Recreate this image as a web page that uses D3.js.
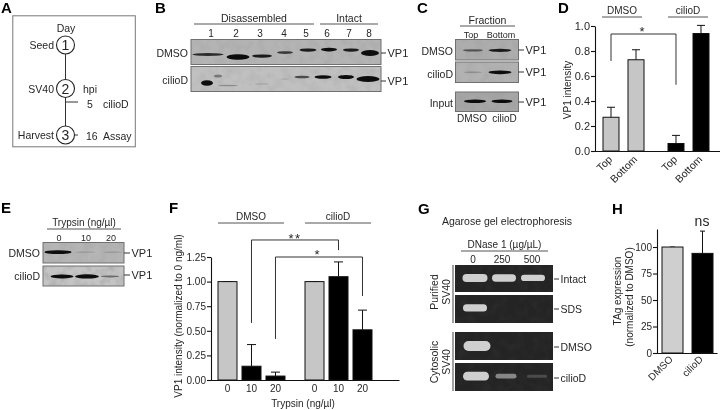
<!DOCTYPE html>
<html>
<head>
<meta charset="utf-8">
<script src="https://cdn.jsdelivr.net/npm/d3@7/dist/d3.min.js"></script>
<style>
  html, body { margin: 0; padding: 0; background: #fff; }
  svg { display: block; filter: blur(0.35px); }
  text { font-family: "Liberation Sans", Arial, sans-serif; fill: #262626; }
  .domain, .tick line { stroke: #111; stroke-width: 1.1px; }
</style>
</head>
<body>
<div id="content"></div>
<script>
// panel A timeline
const days = [1, 2, 3];
const dayLabels = ["Seed", "SV40", "Harvest"];

// panel B, sucrose fractions
const fractions = [1, 2, 3, 4, 5, 6, 7, 8];
const bDmsoBand = [0.4, 0.9, 0.45, 0.35, 0.45, 0.55, 0.45, 1];
const bDmsoMigration = [0.6, 0.7, 0.66, 0.52, 0.42, 0.4, 0.42, 0.54];
const bCilioBand = [0.9, 0.1, 0.03, 0.03, 0.3, 0.5, 0.6, 1];
const bCilioMigration = [0.66, 0.76, 0.7, 0.5, 0.42, 0.42, 0.42, 0.5];

// panel C
const cLanes = ["Top", "Bottom"];
const cDmsoBand = [0.25, 0.45];
const cCilioBand = [0.06, 0.55];
const cInputLanes = ["DMSO", "cilioD"];
const cInputBand = [0.5, 0.5];

// panel D
const dGroups = ["DMSO", "cilioD"];
const dBarsKeys = ["Top", "Bottom"];
const dDmso = [0.27, 0.73];
const dDmsoErr = [0.35, 0.81];
const dCilio = [0.06, 0.94];
const dCilioErr = [0.125, 1.005];
const dTicks = [0, 0.2, 0.4, 0.6, 0.8, 1];

// panel E
const eDoses = [0, 10, 20];
const eDmsoBand = [0.55, 0.04, 0.05];
const eCilioBand = [0.6, 0.65, 0.2];

// panel F
const fGroups = ["DMSO", "cilioD"];
const fDoses = [0, 10, 20];
const fDmso = [1, 0.14, 0.04];
const fDmsoErr = [1, 0.36, 0.08];
const fCilio = [1, 1.05, 0.51];
const fCilioErr = [1, 1.2, 0.71];
const fTicks = [0, 0.25, 0.5, 0.75, 1, 1.25];

// panel G
const gDoses = [0, 250, 500];
const gIntact = [1, 0.9, 0.7];
const gSds = [0.85, 0, 0];
const gDmso = [1, 0, 0];
const gCilio = [0.95, 0.4, 0.15];

// panel H
const hCats = ["DMSO", "cilioD"];
const hVals = [100, 94];
const hErr = [100, 115];
const hTicks = [0, 25, 50, 75, 100];

const grey = "#c6c6c6";
const w = 720, h = 410;

const svg = d3.select("#content").append("svg").attr("width", w).attr("height", h);
const defs = svg.append("defs");
defs.append("filter").attr("id", "soft").attr("x", "-30%").attr("y", "-100%").attr("width", "160%").attr("height", "300%")
  .append("feGaussianBlur").attr("stdDeviation", 0.7);
const grain = defs.append("filter").attr("id", "grain").attr("x", 0).attr("y", 0).attr("width", "100%").attr("height", "100%");
grain.append("feTurbulence").attr("type", "fractalNoise").attr("baseFrequency", 0.12).attr("numOctaves", 2).attr("seed", 4);
grain.append("feColorMatrix").attr("values", "0 0 0 0 0.25  0 0 0 0 0.25  0 0 0 0 0.25  0 0 0 1.1 -0.42");

function txt(x, y, s, size = 10.5, anchor = "start", rot = null) {
  const t = svg.append("text").attr("x", x).attr("y", y).text(s)
    .attr("font-size", size).attr("text-anchor", anchor).attr("dominant-baseline", "central");
  if (rot !== null) t.attr("transform", `rotate(${rot},${x},${y})`);
  return t;
}
function line(x1, y1, x2, y2, col = "#333", sw = 1) {
  svg.append("line").attr("x1", x1).attr("y1", y1).attr("x2", x2).attr("y2", y2)
    .attr("stroke", col).attr("stroke-width", sw);
}
function header(x1, x2, y, s, size = 10.5, col = "#555") {
  line(x1, y, x2, y, col, 1);
  txt((x1 + x2) / 2, y - 6.5, s, size, "middle");
}
function panel(x, y, s) {
  svg.append("text").attr("x", x).attr("y", y).text(s)
    .attr("font-size", 15).attr("font-weight", "bold").style("fill", "#000");
}

// one western blot / gel strip. o has the layout; bands come from the value arrays
function blot(o) {
  const g = svg.append("g");
  g.append("rect").attr("x", o.x0).attr("y", o.y0).attr("width", o.x1 - o.x0).attr("height", o.y1 - o.y0)
    .attr("fill", o.bg).attr("stroke", o.edge || "#6f6f6f").attr("stroke-width", o.edge === "none" ? 0 : 1);
  g.append("rect").attr("x", o.x0).attr("y", o.y0).attr("width", o.x1 - o.x0).attr("height", o.y1 - o.y0)
    .attr("filter", "url(#grain)").attr("opacity", o.grain === undefined ? 0.35 : o.grain);
  const yMig = d3.scaleLinear().domain([0, 1]).range([o.y0, o.y1]);
  const thick = d3.scaleLinear().domain([0, 1]).range(o.thick || [1, 6]);
  const opa = d3.scaleLinear().domain(o.opaDomain || [0, 0.5]).range(o.opaRange || [0.1, 1]).clamp(true);
  g.selectAll("rect.band").data(o.lanes.map((l, i) => ({ l, i, v: o.band[i] })).filter(d => d.v > 0)).enter().append("rect")
    .attr("class", "band")
    .attr("x", d => o.x(d.l) - o.widths[d.i] / 2)
    .attr("y", d => yMig(o.mig ? o.mig[d.i] : o.migAll) - thick(d.v) / 2)
    .attr("width", d => o.widths[d.i])
    .attr("height", d => thick(d.v))
    .attr("rx", d => o.pill ? thick(d.v) / 2 : o.widths[d.i] / 2)
    .attr("ry", d => thick(d.v) / 2)
    .attr("fill", o.ink || "#0a0a0a")
    .attr("opacity", d => opa(d.v))
    .attr("filter", "url(#soft)");
  return g;
}
function tag(x, y, s, tick = 5, size = 11) {
  line(x, y, x + tick, y, "#333", 1);
  txt(x + tick + 1.5, y, s, size);
}

/* ---- A ---- */
panel(1, 13, "A");
svg.append("rect").attr("x", 12.8).attr("y", 15.8).attr("width", 122.5).attr("height", 131)
  .attr("fill", "#fff").attr("stroke", "#777").attr("stroke-width", 1);
const yDay = d3.scaleOrdinal().domain(days).range([45, 88.5, 135]);
line(65.5, yDay(1), 65.5, yDay(3), "#333", 1);
line(66, 102, 78, 102, "#333", 1);
line(75, 135, 78, 135, "#333", 1);
svg.selectAll("circle.day").data(days).enter().append("circle").attr("class", "day")
  .attr("cx", 65.5).attr("cy", d => yDay(d)).attr("r", 9).attr("fill", "#fff").attr("stroke", "#222").attr("stroke-width", 1.1);
days.forEach((d, i) => {
  txt(65.5, yDay(d), d, 14, "middle");
  txt(54, yDay(d), dayLabels[i], 10.5, "end");
});
txt(66, 27.5, "Day", 10.5, "middle");
txt(83, 89, "hpi", 10.5);
txt(87, 103.5, "5", 10.5);
txt(103, 103.5, "cilioD", 10.5);
txt(86, 135.5, "16", 10.5);
txt(103, 135.5, "Assay", 10.5);

/* ---- B ---- */
panel(155, 13, "B");
header(194, 314, 24, "Disassembled", 10.5);
header(320, 378, 24, "Intact", 10.5);
const bLabelX = d3.scaleOrdinal().domain(fractions).range([211, 236, 260, 284, 306, 327, 349, 369]);
fractions.forEach(f => txt(bLabelX(f), 33, f, 10, "middle"));
blot({ x0: 191, x1: 381, y0: 39.5, y1: 64.5, bg: "#b4b4b4", lanes: fractions, band: bDmsoBand, mig: bDmsoMigration,
  x: d3.scaleOrdinal().domain(fractions).range([208, 238, 262, 285, 308, 329, 351, 370]),
  widths: [31, 23, 20, 16, 17, 16, 16, 18] });
blot({ x0: 191, x1: 381, y0: 66.5, y1: 91.5, bg: "#c0c0c0", lanes: fractions, band: bCilioBand, mig: bCilioMigration,
  x: d3.scaleOrdinal().domain(fractions).range([207, 228, 262, 285, 302, 323, 346, 368]),
  widths: [12, 20, 14, 8, 15, 17, 16, 23] })
  .append("ellipse").attr("cx", 218).attr("cy", 76).attr("rx", 4).attr("ry", 1.5).attr("fill", "#333").attr("opacity", 0.5).attr("filter", "url(#soft)");
txt(188, 53, "DMSO", 10.5, "end");
txt(188, 79.5, "cilioD", 10.5, "end");
tag(381, 53, "VP1");
tag(381, 81, "VP1");

/* ---- C ---- */
panel(417, 13, "C");
header(460, 515, 26, "Fraction", 10.5);
const xC = d3.scaleOrdinal().domain(cLanes).range([473, 500]);
const xCInput = d3.scaleOrdinal().domain(cInputLanes).range([475, 502]);
txt(471, 34.5, "Top", 9, "middle");
txt(501, 34.5, "Bottom", 9, "middle");
blot({ x0: 455.5, x1: 518.5, y0: 39.5, y1: 60, bg: "#adadad", x: xC, lanes: cLanes, band: cDmsoBand, migAll: 0.53, widths: [20, 23] });
blot({ x0: 455.5, x1: 518.5, y0: 62, y1: 82.5, bg: "#b2b2b2", x: xC, lanes: cLanes, band: cCilioBand, migAll: 0.5, widths: [18, 23] });
blot({ x0: 455.5, x1: 518.5, y0: 92, y1: 111.5, bg: "#a6a6a6", x: xCInput, lanes: cInputLanes, band: cInputBand, migAll: 0.48, widths: [22, 21] });
txt(453, 50.5, "DMSO", 10.5, "end");
txt(453, 73.5, "cilioD", 10.5, "end");
txt(453, 103, "Input", 10.5, "end");
tag(518.5, 50, "VP1", 5.5);
tag(518.5, 72, "VP1", 5.5);
tag(518.5, 102, "VP1", 5.5);
txt(472, 118, "DMSO", 10, "middle");
txt(504.5, 118, "cilioD", 10, "middle");

// grouped bar panels D and F
function bars(x, y, vals, errs, keys, fill, capW) {
  const gg = svg.append("g");
  gg.selectAll("line.err").data(keys).enter().append("line").attr("class", "err")
    .attr("x1", k => x(k) + x.bandwidth() / 2).attr("x2", k => x(k) + x.bandwidth() / 2)
    .attr("y1", (k, i) => y(vals[i])).attr("y2", (k, i) => y(errs[i]))
    .attr("stroke", "#111").attr("stroke-width", 1);
  gg.selectAll("line.cap").data(keys).enter().append("line").attr("class", "cap")
    .attr("x1", k => x(k) + x.bandwidth() / 2 - capW / 2).attr("x2", k => x(k) + x.bandwidth() / 2 + capW / 2)
    .attr("y1", (k, i) => y(errs[i])).attr("y2", (k, i) => y(errs[i]))
    .attr("stroke", "#111").attr("stroke-width", 1);
  gg.selectAll("rect").data(keys).enter().append("rect")
    .attr("x", k => x(k)).attr("width", x.bandwidth())
    .attr("y", (k, i) => y(vals[i])).attr("height", (k, i) => y(0) - y(vals[i]))
    .attr("fill", fill).attr("stroke", "#111").attr("stroke-width", 1);
}
function yAxis(x, scale, ticks, fmt, size) {
  const a = svg.append("g").attr("transform", `translate(${x},0)`)
    .call(d3.axisLeft(scale).tickValues(ticks).tickFormat(fmt).tickSize(4).tickSizeOuter(0).tickPadding(1));
  a.selectAll("text").attr("font-size", size).style("font-family", '"Liberation Sans", Arial, sans-serif');
}
function xLine(x0, x1, y) {
  svg.append("g").attr("transform", `translate(0,${y})`)
    .call(d3.axisBottom(d3.scaleLinear().range([x0, x1])).tickValues([]).tickSizeOuter(0));
}
function bracket(xa, xb, yTop, yA, yB) {
  svg.append("path").attr("d", d3.line()([[xa, yA], [xa, yTop], [xb, yTop], [xb, yB]]))
    .attr("fill", "none").attr("stroke", "#333").attr("stroke-width", 1);
}

/* ---- D ---- */
panel(558, 13, "D");
const xD = d3.scaleBand().domain(dGroups).range([603, 709]).paddingInner(0.369);
const xDin = d3.scaleBand().domain(dBarsKeys).range([0, xD.bandwidth()]).paddingInner(0.36);
const yD = d3.scaleLinear().domain([0, 1]).range([151, 26]);
header(602, 642, 17, "DMSO", 10);
header(668, 708, 17, "cilioD", 10);
const dx = grp => { const s = k => xD(grp) + xDin(k); s.bandwidth = () => xDin.bandwidth(); return s; };
bars(dx("DMSO"), yD, dDmso, dDmsoErr, dBarsKeys, grey, 8);
bars(dx("cilioD"), yD, dCilio, dCilioErr, dBarsKeys, "#000", 8);
yAxis(595, yD, dTicks, d3.format(".1f"), 11);
xLine(591, 720, 151);
dGroups.forEach(grp => dBarsKeys.forEach(k => {
  const cx = dx(grp)(k) + xDin.bandwidth() / 2;
  svg.append("text").text(k).attr("font-size", 10.5).attr("text-anchor", "end")
    .attr("transform", `translate(${cx + 2},${160}) rotate(-45)`);
}));
txt(567, 90, "VP1 intensity", 10, "middle", -90);
bracket(dx("DMSO")("Top") + 8, dx("cilioD")("Top") + 8, yD(0.936), yD(0.72), yD(0.53));
txt(642, 31, "*", 13, "middle");

/* ---- E ---- */
panel(1, 213, "E");
header(47, 121, 229, "Trypsin (ng/µl)", 10);
const xEl = d3.scaleOrdinal().domain(eDoses).range([59, 86, 111]);
eDoses.forEach(d => txt(xEl(d), 238, d, 9, "middle"));
blot({ x0: 43, x1: 124, y0: 242.5, y1: 263, bg: "#b5b5b5", x: d3.scaleOrdinal().domain(eDoses).range([58, 85, 113]), lanes: eDoses, band: eDmsoBand, migAll: 0.47, widths: [27, 20, 20] });
blot({ x0: 43, x1: 124, y0: 266, y1: 286, bg: "#c4c4c4", x: d3.scaleOrdinal().domain(eDoses).range([62, 87, 110]), lanes: eDoses, band: eCilioBand, migAll: 0.52, widths: [23, 24, 18], grain: 0.75 });
txt(40, 253, "DMSO", 10.5, "end");
txt(40, 276, "cilioD", 10.5, "end");
tag(124, 253, "VP1", 6);
tag(124, 275, "VP1", 6);

/* ---- F ---- */
panel(169, 213, "F");
const xF = d3.scaleBand().domain(fGroups).range([218, 372]).paddingInner(0.23);
const xFin = d3.scaleBand().domain(fDoses).range([0, xF.bandwidth()]).paddingInner(0.208);
const yF = d3.scaleLinear().domain([0, 1.25]).range([380, 257]);
const fx = grp => { const s = k => xF(grp) + xFin(k); s.bandwidth = () => xFin.bandwidth(); return s; };
header(218, 284, 223, "DMSO", 10);
header(305, 371, 223, "cilioD", 10);
// first bar of each group is grey, the treated doses are black
bars(fx("DMSO"), yF, fDmso, fDmsoErr, fDoses, d => (d === 0 ? grey : "#000"), 9);
bars(fx("cilioD"), yF, fCilio, fCilioErr, fDoses, d => (d === 0 ? grey : "#000"), 9);
yAxis(211, yF, fTicks, d3.format(".2f"), 10);
xLine(207, 399, 380);
fGroups.forEach(grp => fDoses.forEach(d => txt(fx(grp)(d) + xFin.bandwidth() / 2, 388.5, d, 10, "middle")));
txt(303, 403, "Trypsin (ng/µl)", 10, "middle");
txt(178, 316, "VP1 intensity (normalized to 0 ng/ml)", 10, "middle", -90);
bracket(fx("DMSO")(10) + 9.5, fx("cilioD")(10) + 9.5, yF(1.423), yF(0.58), yF(1.32));
bracket(fx("DMSO")(20) + 9.5, fx("cilioD")(20) + 9.5, yF(1.25), yF(0.417), yF(0.854));
txt(295, 238, "**", 13, "middle").attr("letter-spacing", 1.5);
txt(317, 254, "*", 13, "middle");

/* ---- G ---- */
panel(418, 214, "G");
txt(507, 221, "Agarose gel electrophoresis", 10.5, "middle");
header(461, 548, 251, "DNase 1 (µg/µL)", 10);
const xGl = d3.scaleOrdinal().domain(gDoses).range([473, 502, 532]);
gDoses.forEach(d => txt(xGl(d), 259.5, d, 10, "middle"));
const gel = { x0: 455, x1: 553, bg: "#242424", edge: "none", ink: "#cfcfcf", lanes: gDoses, grain: 0.12, pill: true, opaDomain: [0, 0.7], opaRange: [0, 1] };
blot(Object.assign({}, gel, { y0: 265, y1: 292, x: d3.scaleOrdinal().domain(gDoses).range([475, 504, 533]), band: gIntact, migAll: 0.48, widths: [25, 24, 24], thick: [2, 8] }));
blot(Object.assign({}, gel, { y0: 295, y1: 323, x: d3.scaleOrdinal().domain(gDoses).range([475, 504, 533]), band: gSds, migAll: 0.46, widths: [24, 20, 20], thick: [2, 8] }));
blot(Object.assign({}, gel, { y0: 332, y1: 360, x: d3.scaleOrdinal().domain(gDoses).range([477, 506, 537]), band: gDmso, migAll: 0.5, widths: [27, 20, 20], thick: [2, 10] }));
blot(Object.assign({}, gel, { y0: 363, y1: 391, x: d3.scaleOrdinal().domain(gDoses).range([476, 506, 537]), band: gCilio, migAll: 0.47, widths: [26, 21, 20], thick: [2, 9] }));
line(453, 265, 453, 323, "#444", 1);
line(453, 332, 453, 391, "#444", 1);
txt(434, 292, "Purified", 10.5, "middle", -90);
txt(446, 292, "SV40", 10.5, "middle", -90);
txt(434, 362, "Cytosolic", 10.5, "middle", -90);
txt(446, 362, "SV40", 10.5, "middle", -90);
[[279, "Intact"], [309, "SDS"], [347, "DMSO"], [378, "cilioD"]].forEach(r => tag(554, r[0], r[1], 5, 10.5));

/* ---- H ---- */
panel(612, 214, "H");
const xH = d3.scaleBand().domain(hCats).range([662, 713]).paddingInner(0.3);
const yH = d3.scaleLinear().domain([0, 117]).range([353, 229]);
bars(xH, yH, hVals, hErr, hCats, d => (d === "DMSO" ? "#cfcfcf" : "#000"), 5);
yAxis(657, yH, hTicks, d3.format("d"), 10);
xLine(653, 717, 353);
hCats.forEach(c => svg.append("text").text(c).attr("font-size", 10).attr("text-anchor", "end")
  .attr("transform", `translate(${xH(c) + xH.bandwidth() / 2 + 1},${360}) rotate(-45)`));
txt(702, 221, "ns", 14, "middle");
txt(617, 291, "TAg expression", 10, "middle", -90);
txt(629, 297, "(normalized to DMSO)", 10, "middle", -90);
</script>
</body>
</html>
